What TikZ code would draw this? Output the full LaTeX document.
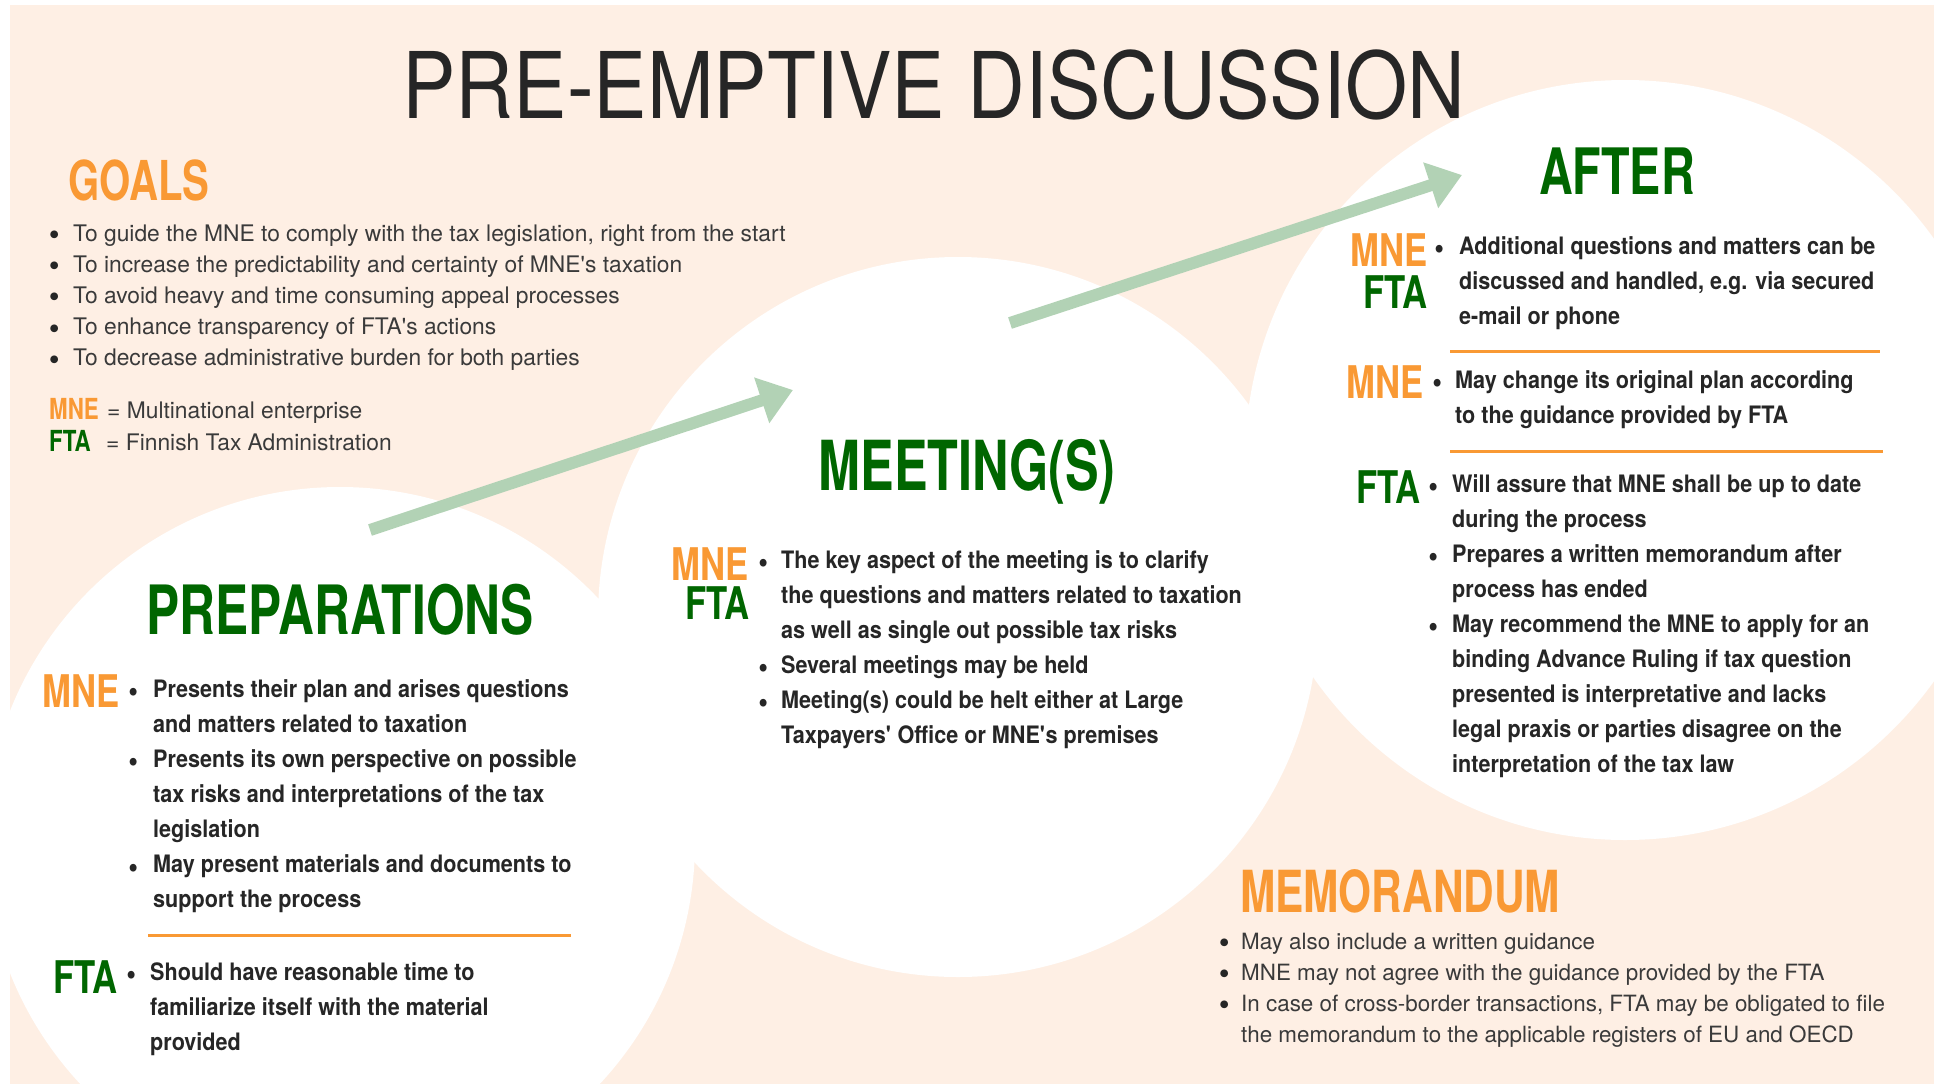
\documentclass[tikz,border=0pt]{standalone}
\usepackage{fontspec}
\setmainfont{TeX Gyre Heros}
\newfontfamily\titlefont{TeX Gyre Heros}[FakeStretch=0.87]
\newfontfamily\headfont{TeX Gyre Heros}[FakeStretch=0.73]
\newfontfamily\labelfont{TeX Gyre Heros}[FakeStretch=0.77]
\newfontfamily\itemfont{TeX Gyre Heros}[FakeStretch=0.9]
\usepackage{tikz}
\usetikzlibrary{arrows.meta}

\definecolor{peach}{RGB}{254,239,228}
\definecolor{mneorange}{RGB}{249,153,52}
\definecolor{ftagreen}{RGB}{0,102,0}
\definecolor{arrowgreen}{RGB}{178,210,181}
\definecolor{boldgray}{RGB}{38,38,38}
\definecolor{plaingray}{RGB}{58,58,58}
\newcommand{\apos}{\textquotesingle}
\newcommand{\blt}{\makebox[10pt][c]{\color{boldgray}\raisebox{-4.5pt}{\fontsize{31}{0}\selectfont\textbullet}}}

\begin{document}
\begin{tikzpicture}[x=1pt,y=-1pt]
    \tikzset{heading/.style = {inner sep=0pt, font=\headfont\bfseries}}
    \tikzset{plainlist/.style = {inner sep=0pt, anchor=base west, text=plaingray, font=\fontsize{22.8}{31.2}\selectfont}}
    \tikzset{boldlist/.style = {inner sep=0pt, anchor=base west, text=boldgray, font=\itemfont\bfseries\fontsize{24}{35.1}\selectfont}}
    \tikzset{party/.style = {inner sep=0pt, anchor=base east, font=\labelfont\bfseries\fontsize{45}{45}\selectfont}}
    \tikzset{divider/.style = {draw=mneorange, line width=3pt}}
    \tikzset{flow/.style = {draw=arrowgreen, line width=12pt, -{Triangle[length=33pt,width=46pt]}}}

    \useasboundingbox (0,0) rectangle (1934,1084);
    \fill[white] (0,0) rectangle (1934,1084);
    \fill[peach] (10,5) rectangle (1934,1084);

    % the three circles
    \fill[white] (340,842) circle[radius=355pt];
    \fill[white] (958,617) circle[radius=360pt];
    \fill[white] (1625,460) circle[radius=380pt];

    % arrows
    \coordinate (f1) at (370,530);
    \coordinate (f2) at (793,390);
    \coordinate (f3) at (1010,323);
    \coordinate (f4) at (1462,175);
    \draw[flow] (f1) -- (f2);
    \draw[flow] (f3) -- (f4);

    % title
    \node[inner sep=0pt, anchor=base, text=boldgray, font=\titlefont\fontsize{92}{92}\selectfont] (title) at (934,118) {PRE-EMPTIVE DISCUSSION};

    % goals
    \node[heading, anchor=base west, text=mneorange] (goals) at (68,200) {\fontsize{55}{55}\selectfont GOALS};
    \node[plainlist] (goallist) at (49,241) {\begin{tabular}[t]{@{}l@{\hspace{14pt}}l@{}}
        \blt & To guide the MNE to comply with the tax legislation, right from the start\\
        \blt & To increase the predictability and certainty of MNE\apos s taxation\\
        \blt & To avoid heavy and time consuming appeal processes\\
        \blt & To enhance transparency of FTA\apos s actions\\
        \blt & To decrease administrative burden for both parties
    \end{tabular}};
    \node[inner sep=0pt, anchor=base west, text=mneorange, font=\labelfont\bfseries\fontsize{29}{29}\selectfont] (mnekey) at (49,419) {MNE};
    \node[plainlist] (mnetext) at (107,418) {= Multinational enterprise};
    \node[inner sep=0pt, anchor=base west, text=ftagreen, font=\labelfont\bfseries\fontsize{29}{29}\selectfont] (ftakey) at (49,451) {FTA};
    \node[plainlist] (ftatext) at (106,450) {= Finnish Tax Administration};

    % preparations
    \node[heading, anchor=base, text=ftagreen] (prep) at (340,634) {\fontsize{68}{68}\selectfont PREPARATIONS};
    \node[party, text=mneorange] (prepmne) at (120,707) {MNE};
    \node[boldlist] (prepmnelist) at (128,697) {\begin{tabular}[t]{@{}l@{\hspace{15pt}}l@{}}
        \blt & Presents their plan and arises questions\\
             & and matters related to taxation\\
        \blt & Presents its own perspective on possible\\
             & tax risks and interpretations of the tax\\
             & legislation\\
        \blt & May present materials and documents to\\
             & support the process
    \end{tabular}};
    \draw[divider] (148,935) -- (571,935);
    \node[party, text=ftagreen] (prepfta) at (118,993) {FTA};
    \node[boldlist] (prepftalist) at (126,980) {\begin{tabular}[t]{@{}l@{\hspace{14pt}}l@{}}
        \blt & Should have reasonable time to\\
             & familiarize itself with the material\\
             & provided
    \end{tabular}};

    % meeting(s)
    \node[heading, anchor=base, text=ftagreen] (meet) at (967,490) {\fontsize{69}{69}\selectfont MEETING(S)};
    \node[party, text=mneorange] (meetmne) at (749,580) {MNE};
    \node[party, text=ftagreen] (meetfta) at (750,619) {FTA};
    \node[boldlist] (meetlist) at (758,568) {\begin{tabular}[t]{@{}l@{\hspace{13pt}}l@{}}
        \blt & The key aspect of the meeting is to clarify\\
             & the questions and matters related to taxation\\
             & as well as single out possible tax risks\\
        \blt & Several meetings may be held\\
        \blt & Meeting(s) could be helt either at Large\\
             & Taxpayers\apos{} Office or MNE\apos s premises
    \end{tabular}};

    % after
    \node[heading, anchor=base, text=ftagreen] (after) at (1617,194) {\fontsize{64}{64}\selectfont AFTER};
    \node[party, text=mneorange] (aftermne) at (1428,266) {MNE};
    \node[party, text=ftagreen] (afterfta) at (1428,308) {FTA};
    \node[boldlist] (afterlist) at (1434,254) {\begin{tabular}[t]{@{}l@{\hspace{15pt}}l@{}}
        \blt & Additional questions and matters can be\\
             & discussed and handled, e.g. via secured\\
             & e-mail or phone
    \end{tabular}};
    \draw[divider] (1450,351) -- (1880,351);
    \node[party, text=mneorange] (changemne) at (1424,398) {MNE};
    \node[boldlist] (changelist) at (1432,388) {\begin{tabular}[t]{@{}l@{\hspace{13pt}}l@{}}
        \blt & May change its original plan according\\
             & to the guidance provided by FTA
    \end{tabular}};
    \draw[divider] (1450,451) -- (1883,451);
    \node[party, text=ftagreen] (assurefta) at (1421,503) {FTA};
    \node[boldlist] (assurelist) at (1428,492) {\begin{tabular}[t]{@{}l@{\hspace{14pt}}l@{}}
        \blt & Will assure that MNE shall be up to date\\
             & during the process\\
        \blt & Prepares a written memorandum after\\
             & process has ended\\
        \blt & May recommend the MNE to apply for an\\
             & binding Advance Ruling if tax question\\
             & presented is interpretative and lacks\\
             & legal praxis or parties disagree on the\\
             & interpretation of the tax law
    \end{tabular}};

    % memorandum
    \node[heading, anchor=base west, text=mneorange] (memo) at (1240,912) {\fontsize{58}{58}\selectfont MEMORANDUM};
    \node[plainlist, font=\fontsize{22.4}{31.2}\selectfont] (memolist) at (1219,949) {\begin{tabular}[t]{@{}l@{\hspace{12pt}}l@{}}
        \blt & May also include a written guidance\\
        \blt & MNE may not agree with the guidance provided by the FTA\\
        \blt & In case of cross-border transactions, FTA may be obligated to file\\
             & the memorandum to the applicable registers of EU and OECD
    \end{tabular}};
\end{tikzpicture}
\end{document}
